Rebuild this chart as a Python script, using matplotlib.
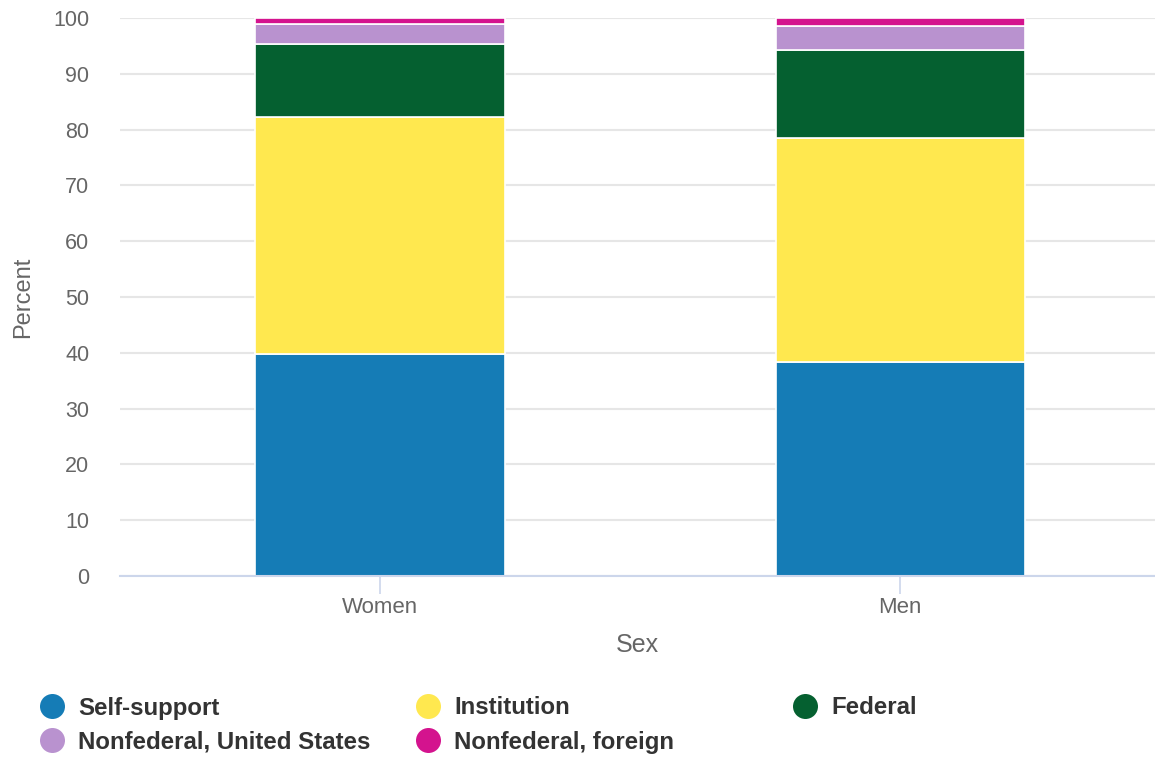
import matplotlib
matplotlib.use("Agg")
import matplotlib.pyplot as plt
from matplotlib.lines import Line2D
import numpy as np

plt.rcParams['font.family'] = ['Liberation Sans', 'DejaVu Sans']

categories = ["Women", "Men"]
series_names = ["Self-support", "Institution", "Federal",
                "Nonfederal, United States", "Nonfederal, foreign"]
self_support = [39.8, 38.4]
institution = [42.5, 40.1]
federal = [13.0, 15.8]
nonfederal_us = [3.6, 4.2]
nonfederal_foreign = [1.1, 1.5]
colors = ["#157cb6", "#ffe84f", "#056030", "#b992cf", "#d4138e"]
y_ticks = [0, 10, 20, 30, 40, 50, 60, 70, 80, 90, 100]

series = [self_support, institution, federal, nonfederal_us, nonfederal_foreign]

W, H = 1155, 758
fig = plt.figure(figsize=(W / 100, H / 100), dpi=100)
ax = fig.add_axes([120 / W, 1 - 576 / H, (1155 - 120) / W, (576 - 18) / H])

x = np.arange(len(categories))
bottom = np.zeros(len(categories))
for vals, col, name in zip(series, colors, series_names):
    ax.bar(x, vals, width=0.479, bottom=bottom, color=col, edgecolor="white",
           linewidth=1.2, label=name, zorder=3)
    bottom += np.array(vals)

ax.set_xlim(-0.5, 1.49)
ax.set_ylim(0, 100)
ax.set_yticks(y_ticks)
ax.set_xticks(x)
ax.set_xticklabels(categories)
ax.yaxis.grid(True, color="#e6e6e6", linewidth=1.5, zorder=0)
ax.set_axisbelow(True)
for s in ["top", "right", "left"]:
    ax.spines[s].set_visible(False)
ax.spines["bottom"].set_color("#ccd6eb")
ax.spines["bottom"].set_linewidth(1.5)
ax.spines["bottom"].set_zorder(4)
ax.tick_params(axis="y", length=0, pad=22, labelsize=15.5, labelcolor="#666666")
ax.tick_params(axis="x", length=13, width=1.2, color="#ccd6eb", pad=2,
               labelsize=16, labelcolor="#666666")
ax.set_ylabel("Percent", fontsize=17, color="#666666", labelpad=14)
ax.set_xlabel("Sex", fontsize=18, color="#666666", labelpad=11)

# legend, row-wise layout
legend_cols = [52, 428, 805]
legend_rows = [706, 740]
for i, (name, col) in enumerate(zip(series_names, colors)):
    r, c = divmod(i, 3)
    mx = legend_cols[c] / W
    my = 1 - legend_rows[r] / H
    fig.add_artist(Line2D([mx], [my], marker="o", markersize=18, color=col,
                          markeredgewidth=0, linestyle="none",
                          transform=fig.transFigure))
    fig.text(mx + 26 / W, my - 2 / H, name, fontsize=17.3, fontweight="bold",
             color="#333333", va="center", ha="left")

fig.savefig("out.png", dpi=100)
